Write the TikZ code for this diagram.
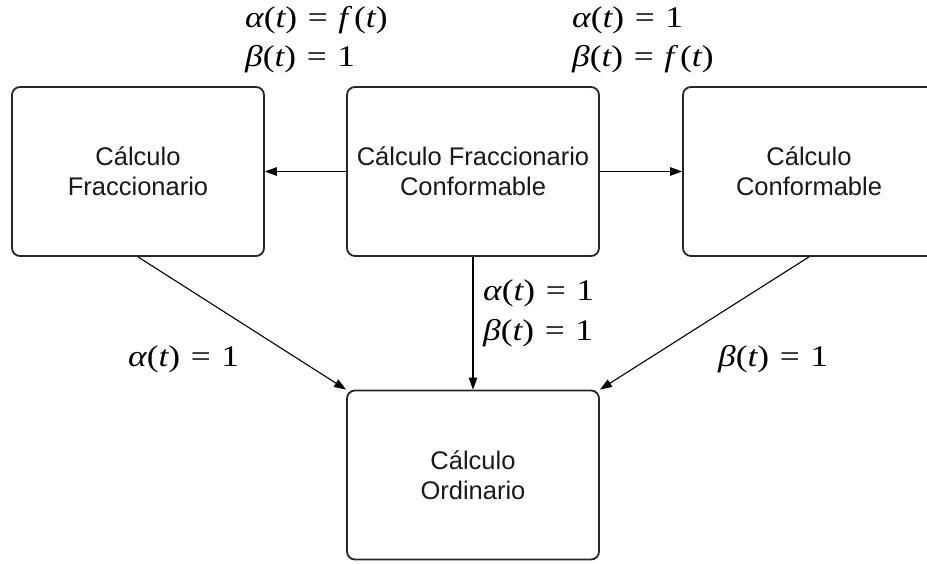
\documentclass[tikz,border=0pt]{standalone}
\usepackage{graphicx}
\usepackage{fontspec}
\setmainfont{Liberation Sans}
\newfontfamily\tms{Liberation Serif}
\newcommand{\iv}[1]{{\itshape #1}}
\newcommand{\eqsign}{\hspace{0.3em}=\hspace{0.3em}}
\newcommand{\wide}[1]{\scalebox{1.18}[1]{#1}}
\usetikzlibrary{arrows.meta}
\tikzset{
  boxnode/.style={draw=black!85, line width=1.8pt, rounded corners=8pt,
    minimum width=252pt, minimum height=169pt, inner sep=0pt, align=center,
    font=\fontsize{25.5pt}{30pt}\selectfont, text=black!90},
  conn/.style={line width=1.1pt, -{Triangle[length=12pt,width=8.5pt]}},
  lab/.style={anchor=base west, inner sep=0pt, font=\tms\fontsize{30pt}{40pt}\selectfont}
}
\begin{document}
\begin{tikzpicture}[x=1pt,y=-1pt]
\useasboundingbox (0,0) rectangle (927,563);
\node[boxnode] (frac) at (138,171.5) {Cálculo\\Fraccionario};
\node[boxnode] (fc) at (473,171.5) {Cálculo Fraccionario\\Conformable};
\node[boxnode] (conf) at (809,171.5) {Cálculo\\Conformable};
\node[boxnode] (ord) at (473,475) {Cálculo\\Ordinario};
\draw[conn] (fc.west) -- (frac.east);
\draw[conn] (fc.east) -- (conf.west);
\draw[conn] (fc.south) -- (ord.north);
\draw[conn] (frac.south) -- (ord.north west);
\draw[conn] (conf.south) -- (ord.north east);
\node[lab] (l1a) at (245,27) {\wide{\iv{α}(\iv{t})\eqsign\iv{f}\,(\iv{t})}};
\node[lab] (l1b) at (245,66) {\wide{\iv{β}(\iv{t})\eqsign 1}};
\node[lab] (l2a) at (572,27) {\wide{\iv{α}(\iv{t})\eqsign 1}};
\node[lab] (l2b) at (572,66) {\wide{\iv{β}(\iv{t})\eqsign\iv{f}\,(\iv{t})}};
\node[lab] (l3a) at (483,300) {\wide{\iv{α}(\iv{t})\eqsign 1}};
\node[lab] (l3b) at (483,340) {\wide{\iv{β}(\iv{t})\eqsign 1}};
\node[lab] (l4) at (128,366) {\wide{\iv{α}(\iv{t})\eqsign 1}};
\node[lab] (l5) at (718,366) {\wide{\iv{β}(\iv{t})\eqsign 1}};
\end{tikzpicture}
\end{document}
